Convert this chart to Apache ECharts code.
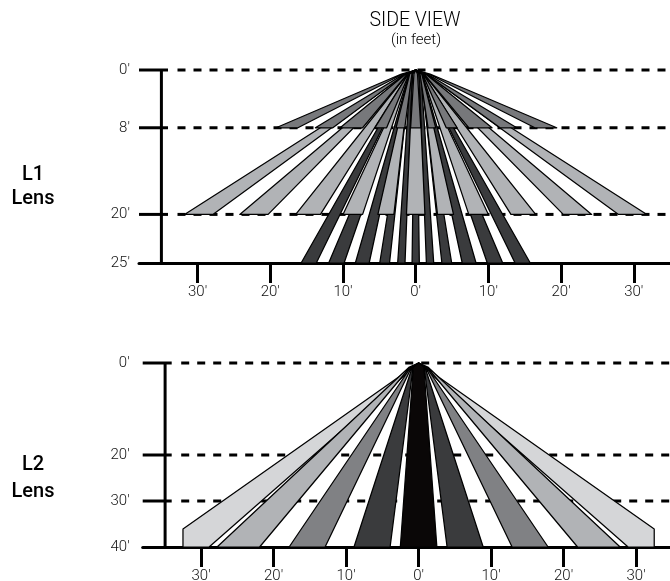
<!DOCTYPE html>
<html><head><meta charset="utf-8">
<style>html,body{margin:0;padding:0;background:#fff}#c{width:670px;height:581px}</style>
<script src="https://cdn.jsdelivr.net/npm/echarts@6/dist/echarts.min.js"></script>
</head><body><div id="c"></div>
<script>
// ---- data (feet) ----
const xTicks = [-30, -20, -10, 0, 10, 20, 30];
const l1DepthTicks = [0, 8, 20, 26.73];
const l1DepthLabels = ["0'", "8'", "20'", "25'"];
const l2DepthTicks = [0, 20, 30, 40];
const l2DepthLabels = ["0'", "20'", "30'", "40'"];

// beam footprints: [near x, far x] at the given depth
const l1Depth8 = [[-19.2,-16.2],[-13.8,-11.4],[-10.4,-7.3],[-5.6,-4.0],[-2.7,-1.5],[-0.7,0.7],[1.7,2.75],[4.2,5.7],[7.3,10.5],[11.6,13.9],[16.4,19.4]];
const l1Depth20 = [[-31.8,-27.9],[-24.2,-20.3],[-16.5,-13.1],[-10.0,-7.3],[-5.2,-3.0],[-1.27,1.27],[3.0,5.2],[7.3,10.0],[13.1,16.5],[20.3,24.2],[27.9,31.8]];
const l1Depth25 = [[-15.76,-13.67],[-11.97,-9.85],[-8.3,-6.4],[-4.95,-3.6],[-2.48,-1.47],[-0.5,0.5],[1.47,2.48],[3.6,4.95],[6.4,8.3],[9.85,11.97],[13.67,15.76]];

const l2Center = [[-2.52,2.52]];
const l2Ring1 = [[-8.91,-3.93],[3.93,8.91]];
const l2Ring2 = [[-17.86,-12.9],[12.9,17.86]];
const l2Ring3 = [[-27.8,-21.93],[21.93,27.8]];
const l2Outer = [[-32.5,-28.9],[28.9,32.5]];
const l2ShoulderDepth = 36.1;

// ---- layout helpers ----
const W = 670;
const FONT = 'Roboto';
const panels = [
  {top:70,  bottom:263, left:139,   apex:415.7, pxFt:7.27, maxDepth:26.73, ticks:l1DepthTicks, labels:l1DepthLabels, labelMargin:9, xMargin:22},
  {top:363, bottom:547, left:142.7, apex:418.6, pxFt:7.25, maxDepth:40,    ticks:l2DepthTicks, labels:l2DepthLabels, labelMargin:13, xMargin:22}
];
const BLACK = '#000';
const ruleStyle = {color:BLACK, width:3};
const STROKE = 1.25;

// Beam edges start slightly spread around the source point and merge into a black knot.
function edgeAt(a, bottom, t) {
  const dx = bottom[0] - a[0];
  const spread = Math.max(-5, Math.min(5, dx * 0.3));
  return [a[0] + spread * (1 - t) + dx * t, a[1] + (bottom[1] - a[1]) * t];
}
function beamPoints(a, near, far) {
  const t = 4 / (near[1] - a[1]);
  return [a, edgeAt(a, near, t), near, far, edgeAt(a, far, t)];
}
function beamSeries(idx, depth, rows, color) {
  return {
    type:'custom', xAxisIndex:idx, yAxisIndex:idx, silent:true, clip:false, z:5,
    encode:{x:[0,1], y:2},
    data: rows.map(r => [r[0], r[1], depth]),
    renderItem(params, api) {
      const a = api.coord([0,0]), p = api.coord([api.value(0), api.value(2)]), q = api.coord([api.value(1), api.value(2)]);
      return {type:'polygon', shape:{points:beamPoints(a,p,q)}, style:{fill:color, stroke:BLACK, lineWidth:STROKE, lineJoin:'round'}};
    }
  };
}
function shoulderSeries(idx, rows, color) {
  return {
    type:'custom', xAxisIndex:idx, yAxisIndex:idx, silent:true, clip:false, z:5,
    encode:{x:[0,1], y:2},
    data: rows.map(r => [r[0], r[1], 40]),
    renderItem(params, api) {
      const a = api.coord([0,0]), o = api.value(0), i = api.value(1);
      const outerX = Math.abs(o) > Math.abs(i) ? o : i, innerX = outerX === o ? i : o;
      const pts = [a, api.coord([outerX,l2ShoulderDepth]), api.coord([outerX,40]), api.coord([innerX,40])];
      return {type:'polygon', shape:{points:pts}, style:{fill:color, stroke:BLACK, lineWidth:STROKE, lineJoin:'round'}};
    }
  };
}
function line(idx, pts, dash) {
  return {type:'line', xAxisIndex:idx, yAxisIndex:idx, silent:true, symbol:'none', clip:false, z:2, data:pts,
    lineStyle:Object.assign({}, ruleStyle, {type: dash ? [8,8] : 'solid', cap:'butt'})};
}
const xAxes = [], yAxes = [], grids = [], series = [];
panels.forEach((p, i) => {
  const toFt = px => (px - p.apex) / p.pxFt;
  grids.push({left:p.left, right:0, top:p.top, height:p.bottom - p.top, containLabel:false, outerBoundsMode:'none'});
  xAxes.push({type:'value', gridIndex:i, min:toFt(p.left), max:toFt(W), position:'bottom',
    axisLine:{show:true, onZero:false, lineStyle:{color:BLACK, width:3}},
    axisTick:{show:true, customValues:xTicks, length:20, lineStyle:{color:BLACK, width:3}},
    axisLabel:{customValues:xTicks, margin:p.xMargin, fontFamily:FONT, fontWeight:300, fontSize:15, color:'#111', hideOverlap:false,
      formatter:v => Math.abs(Math.round(v)) + "'", showMinLabel:true, showMaxLabel:true},
    splitLine:{show:false}});
  yAxes.push({type:'value', gridIndex:i, inverse:true, min:0, max:p.maxDepth, position:'left',
    axisLine:{show:false}, axisTick:{show:false}, splitLine:{show:false},
    axisLabel:{customValues:p.ticks, margin:p.labelMargin, fontFamily:FONT, fontWeight:300, fontSize:15, color:'#111',
      formatter:v => { const k = p.ticks.findIndex(t => Math.abs(t - v) < 1e-6); return k >= 0 ? p.labels[k] : ''; }}});
  const stubEnd = toFt(p.left + 29), dashStart = toFt(p.left + 38.5), vx = toFt(p.left + 22.4);
  series.push(line(i, [[vx,0],[vx,p.maxDepth]], false));
  p.ticks.slice(0, -1).forEach(d => {
    series.push(line(i, [[toFt(p.left),d],[stubEnd,d]], false));
    series.push(line(i, [[dashStart,d],[toFt(W),d]], true));
  });
});
series.push(beamSeries(0, 26.73, l1Depth25, '#3a3b3d'));
series.push(beamSeries(0, 20, l1Depth20, '#b1b3b6'));
series.push(beamSeries(0, 8, l1Depth8, '#77787b'));
series.push(shoulderSeries(1, l2Outer, '#d5d6d8'));
series.push(beamSeries(1, 40, l2Ring3, '#b1b3b6'));
series.push(beamSeries(1, 40, l2Ring2, '#808184'));
series.push(beamSeries(1, 40, l2Ring1, '#3a3b3d'));
series.push(beamSeries(1, 40, l2Center, '#0a0707'));

const txt = (text, x, y, size, weight) => ({type:'text', x, y, silent:true, style:{text, fontFamily:FONT, fontSize:size, fontWeight:weight||300, fill:'#000', align:'center', verticalAlign:'middle'}});
const chart = echarts.init(document.getElementById('c'), null, {renderer:'canvas'});
chart.setOption({
  animation:false, backgroundColor:'#fff', grid:grids, xAxis:xAxes, yAxis:yAxes, series,
  graphic:[
    txt('SIDE VIEW', 415, 21, 19.5), txt('(in feet)', 416, 40, 15),
    txt('L1', 33, 175, 20, 500), txt('Lens', 33, 199, 20, 500),
    txt('L2', 33, 465, 20, 500), txt('Lens', 33, 492, 20, 500)
  ]
});
</script></body></html>
